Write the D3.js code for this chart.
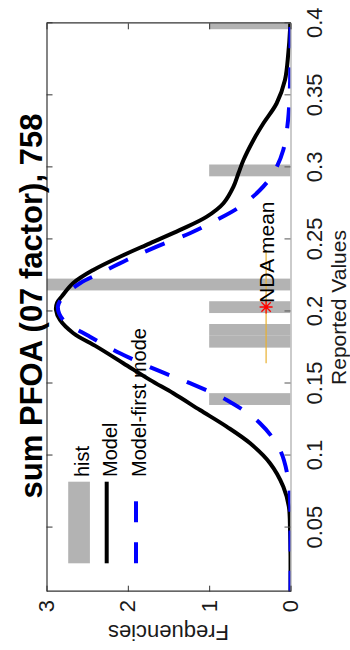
<!DOCTYPE html>
<html>
<head>
<meta charset="utf-8">
<script src="https://cdn.jsdelivr.net/npm/d3@7"></script>
<style>
  html, body { margin: 0; padding: 0; background: #ffffff; }
  svg { display: block; }
  text { font-family: "Liberation Sans", Arial, Helvetica, sans-serif; }
</style>
</head>
<body>
<div id="chart"></div>
<script>
// ---------------- data ----------------
const titleText = "sum PFOA (07 factor), 758";
const xLabel = "Reported Values";
const yLabel = "Frequencies";
const legendLabels = ["hist", "Model", "Model-first mode"];

const xDomain = [0.0055, 0.4];
const yDomain = [0, 3];
const xTicks = [0.05, 0.1, 0.15, 0.2, 0.25, 0.3, 0.35, 0.4];
const xTickLabels = ["0.05", "0.1", "0.15", "0.2", "0.25", "0.3", "0.35", "0.4"];
const yTicks = [0, 1, 2, 3];
const yTickLabels = ["0", "1", "2", "3"];

// histogram bars (centres, counts, common width)
const histCenters = [0.1392, 0.1790, 0.1872, 0.2030, 0.2187, 0.2979, 0.4000];
const histCounts  = [1, 1, 1, 1, 3, 1, 1];
const histWidth = 0.0082;

// Model curve (solid black)
const modelX = [0.0055, 0.030, 0.0484, 0.0645, 0.0784, 0.0947, 0.1085, 0.1201, 0.1316, 0.1432,
                0.1525, 0.1641, 0.1756, 0.1849, 0.1941, 0.2010, 0.2060, 0.2103, 0.2196, 0.2288,
                0.2380, 0.2473, 0.2566, 0.2658, 0.2751, 0.2866, 0.2959, 0.3051, 0.3190, 0.3306,
                0.3445, 0.3606, 0.3792, 0.3954, 0.4000];
const modelY = [0.000, 0.000, 0.006, 0.020, 0.088, 0.252, 0.496, 0.785, 1.113, 1.441,
                1.728, 2.056, 2.384, 2.670, 2.834, 2.883, 2.870, 2.814, 2.674, 2.425,
                2.097, 1.728, 1.357, 1.029, 0.824, 0.701, 0.640, 0.578, 0.455, 0.333,
                0.170, 0.068, 0.027, 0.006, 0.004];

// Model-first mode curve (dashed blue)
const firstX = [0.0055, 0.050, 0.0693, 0.0831, 0.1039, 0.1224, 0.1386, 0.1502, 0.1594, 0.1710,
                0.1825, 0.1941, 0.2033, 0.2103, 0.2196, 0.2265, 0.2357, 0.2450, 0.2543, 0.2635,
                0.2727, 0.2843, 0.2959, 0.3121, 0.3329, 0.3600, 0.4000];
const firstY = [0.000, 0.000, 0.006, 0.027, 0.129, 0.375, 0.785, 1.236, 1.645, 2.096,
                2.466, 2.794, 2.860, 2.794, 2.588, 2.342, 2.014, 1.645, 1.236, 0.907,
                0.621, 0.375, 0.211, 0.089, 0.030, 0.005, 0.000];

// NDA mean marker with its range
const ndaLabel = "NDA mean";
const ndaMean = 0.2031;
const ndaRange = [0.164, 0.2425];
const ndaLevel = 0.30;

// ---------------- layout (drawn in an un-rotated 650 x 350 frame, then rotated) ----------------
const W = 650, H = 350;
const plotLeft = 58.3, plotRight = 626.7, plotTop = 46.5, plotBottom = 290.5;

const svg = d3.select("#chart").append("svg")
  .attr("width", 350).attr("height", 650);

const g = svg.append("g").attr("transform", "translate(0,650) rotate(-90)");

const x = d3.scaleLinear().domain(xDomain).range([plotLeft, plotRight]);
const y = d3.scaleLinear().domain(yDomain).range([plotBottom, plotTop]);

g.append("defs").append("clipPath").attr("id", "plotclip")
  .append("rect").attr("x", plotLeft).attr("y", plotTop)
  .attr("width", plotRight - plotLeft).attr("height", plotBottom - plotTop);

const plot = g.append("g").attr("clip-path", "url(#plotclip)");

// bars
const histData = histCenters.map((c, i) => ({c, n: histCounts[i]}));
plot.selectAll("rect.bar").data(histData).enter().append("rect")
  .attr("class", "bar")
  .attr("x", d => x(d.c - histWidth / 2))
  .attr("width", d => x(d.c + histWidth / 2) - x(d.c - histWidth / 2))
  .attr("y", d => y(d.n))
  .attr("height", d => y(0) - y(d.n))
  .attr("fill", "#b3b3b3");

// NDA range line
plot.append("line")
  .attr("x1", x(ndaRange[0])).attr("x2", x(ndaRange[1]))
  .attr("y1", y(ndaLevel)).attr("y2", y(ndaLevel))
  .attr("stroke", "#e8b030").attr("stroke-width", 1.2);

const line = d3.line().x(d => x(d[0])).y(d => y(d[1])).curve(d3.curveCatmullRom.alpha(0.5));

plot.append("path")
  .datum(modelX.map((v, i) => [v, modelY[i]]))
  .attr("d", line)
  .attr("fill", "none").attr("stroke", "#000000").attr("stroke-width", 4)
  .attr("stroke-linejoin", "round");

plot.append("path")
  .datum(firstX.map((v, i) => [v, firstY[i]]))
  .attr("d", line)
  .attr("fill", "none").attr("stroke", "#0000ff").attr("stroke-width", 4)
  .attr("stroke-dasharray", "21,19");

// asterisk marker
const sx = x(ndaMean), sy = y(ndaLevel), r = 6.5, rd = r * 0.72;
g.append("path")
  .attr("d", `M${sx - r},${sy}H${sx + r}M${sx},${sy - r}V${sy + r}` +
             `M${sx - rd},${sy - rd}L${sx + rd},${sy + rd}M${sx - rd},${sy + rd}L${sx + rd},${sy - rd}`)
  .attr("stroke", "#ff0000").attr("stroke-width", 1.3).attr("fill", "none");

g.append("text")
  .attr("x", sx + 4).attr("y", sy)
  .attr("dominant-baseline", "central")
  .attr("font-size", 21).attr("fill", "#000")
  .text(ndaLabel);

// ---------------- axes ----------------
const xAxis = d3.axisBottom(x).tickValues(xTicks)
  .tickFormat((d, i) => xTickLabels[i]).tickSizeInner(-6).tickSizeOuter(0).tickPadding(16);
const gx = g.append("g").attr("transform", `translate(0,${plotBottom})`).call(xAxis);
gx.select(".domain").attr("stroke", "#a8a8a8").attr("stroke-width", 1.2);
gx.selectAll(".tick line").attr("stroke", "#555");
gx.selectAll("text").attr("font-size", 22).attr("fill", "#1a1a1a");

const yAxis = d3.axisLeft(y).tickValues(yTicks)
  .tickFormat((d, i) => yTickLabels[i]).tickSizeInner(-6).tickSizeOuter(0).tickPadding(8.3);
const gy = g.append("g").attr("transform", `translate(${plotLeft},0)`).call(yAxis);
gy.select(".domain").attr("stroke", "#333").attr("stroke-width", 1.2);
gy.selectAll(".tick line").attr("stroke", "#333");
gy.selectAll("text").attr("font-size", 22).attr("fill", "#1a1a1a");

// mirrored box sides
const xTop = d3.axisTop(x).tickValues(xTicks).tickFormat("").tickSizeInner(-6).tickSizeOuter(0);
const gxt = g.append("g").attr("transform", `translate(0,${plotTop})`).call(xTop);
gxt.select(".domain").attr("stroke", "#333").attr("stroke-width", 1.2);
gxt.selectAll(".tick line").attr("stroke", "#333");

const yRight = d3.axisRight(y).tickValues(yTicks).tickFormat("").tickSizeInner(-6).tickSizeOuter(0);
const gyr = g.append("g").attr("transform", `translate(${plotRight},0)`).call(yRight);
gyr.select(".domain").attr("stroke", "#333").attr("stroke-width", 1.2);
gyr.selectAll(".tick line").attr("stroke", "#333");

// axis labels & title
g.append("text")
  .attr("x", (plotLeft + plotRight) / 2).attr("y", 345.5)
  .attr("text-anchor", "middle").attr("font-size", 21).attr("fill", "#1a1a1a")
  .text(xLabel);

g.append("text")
  .attr("transform", `translate(25,${(plotTop + plotBottom) / 2}) rotate(-90)`)
  .attr("text-anchor", "middle").attr("font-size", 22).attr("fill", "#1a1a1a")
  .text(yLabel);

g.append("text")
  .attr("x", (plotLeft + plotRight) / 2 + 1.5).attr("y", 41.5)
  .attr("text-anchor", "middle").attr("font-size", 31).attr("font-weight", "bold")
  .attr("fill", "#000")
  .text(titleText);

// ---------------- legend ----------------
const legU0 = 86.7, legU1 = 168.3;
const legRows = [79, 106.7, 136];
const leg = g.append("g");
leg.append("rect").attr("x", legU0).attr("y", legRows[0] - 10.8)
  .attr("width", legU1 - legU0).attr("height", 21.7).attr("fill", "#b3b3b3");
leg.append("line").attr("x1", legU0).attr("x2", legU1)
  .attr("y1", legRows[1]).attr("y2", legRows[1])
  .attr("stroke", "#000").attr("stroke-width", 4);
leg.append("line").attr("x1", legU0).attr("x2", legU1)
  .attr("y1", legRows[2]).attr("y2", legRows[2])
  .attr("stroke", "#0000ff").attr("stroke-width", 4).attr("stroke-dasharray", "21,20");
leg.selectAll("text.leg").data(legendLabels).enter().append("text")
  .attr("class", "leg")
  .attr("x", 173).attr("y", (d, i) => legRows[i] + 10)
  .attr("font-size", 20).attr("fill", "#000")
  .text(d => d);
</script>
</body>
</html>
